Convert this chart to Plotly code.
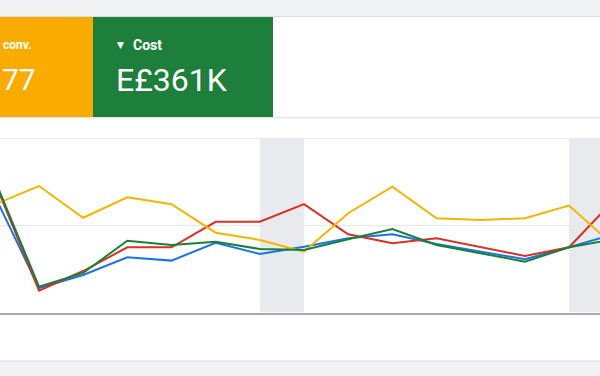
import plotly.graph_objects as go

W, H = 600, 376

days = list(range(15))
yellow = [62.3, 72.9, 54.6, 66.4, 62.4, 46.0, 41.8, 35.0, 57.2, 72.5, 54.3, 53.3, 54.3, 61.6, 38.9]
red    = [75.2, 12.6, 23.9, 37.6, 37.6, 52.3, 52.3, 62.5, 45.1, 39.9, 42.8, 37.8, 32.6, 37.6, 64.3]
blue   = [67.2, 14.1, 21.6, 31.8, 29.9, 40.2, 33.7, 37.9, 42.8, 45.1, 39.5, 35.2, 30.7, 37.6, 45.0]
green  = [76.4, 14.9, 22.8, 41.4, 38.9, 40.8, 36.6, 36.0, 42.2, 48.1, 38.9, 34.3, 29.3, 37.6, 42.2]
weekend_spans = [(6, 7), (13, 14)]

card1_label, card1_value = "conv.", "77"
card2_label, card2_value = "Cost", "E£361K"


def py(px):
    return 1 - px / H


def pxx(px):
    return px / W


fig = go.Figure()
series = [("Blue", blue, "#1a73e8"), ("Red", red, "#d93025"),
          ("Yellow", yellow, "#f4b400"), ("Green", green, "#188038")]
for name, vals, col in series:
    fig.add_trace(go.Scatter(x=days, y=vals, mode="lines", name=name,
                             line=dict(color=col, width=2), hoverinfo="skip"))

shapes = []
shapes.append(dict(type="rect", xref="paper", yref="paper", x0=0, x1=1, y0=py(16), y1=1,
                   fillcolor="#f1f3f4", line_width=0, layer="below"))
shapes.append(dict(type="line", xref="paper", yref="paper", x0=0, x1=1, y0=py(16.5), y1=py(16.5),
                   line=dict(color="#dadce0", width=1)))
shapes.append(dict(type="rect", xref="paper", yref="paper", x0=0, x1=pxx(93), y0=py(117), y1=py(17),
                   fillcolor="#f9ab00", line_width=0))
shapes.append(dict(type="rect", xref="paper", yref="paper", x0=pxx(93), x1=pxx(273), y0=py(117), y1=py(17),
                   fillcolor="#1e7f3c", line_width=0))
shapes.append(dict(type="line", xref="paper", yref="paper", x0=0, x1=1, y0=py(117.8), y1=py(117.8),
                   line=dict(color="#dadce0", width=1)))
shapes.append(dict(type="line", xref="paper", yref="paper", x0=0, x1=1, y0=py(138.5), y1=py(138.5),
                   line=dict(color="#e8eaed", width=1)))
shapes.append(dict(type="line", xref="paper", yref="paper", x0=0, x1=1, y0=py(361), y1=py(361),
                   line=dict(color="#dadce0", width=1)))
shapes.append(dict(type="rect", xref="paper", yref="paper", x0=0, x1=1, y0=0, y1=py(361.5),
                   fillcolor="#f1f3f4", line_width=0, layer="below"))
for a, b in weekend_spans:
    shapes.append(dict(type="rect", xref="x", yref="y", x0=a, x1=b, y0=0, y1=100,
                       fillcolor="#e8eaed", line_width=0, layer="below"))

ann = []
ann.append(dict(xref="paper", yref="paper", x=pxx(33), y=py(45), text="<b>" + card1_label + "</b>",
                xanchor="right", yanchor="middle", showarrow=False,
                font=dict(family="Roboto", size=12, color="white")))
ann.append(dict(xref="paper", yref="paper", x=0, y=py(80), text=card1_value,
                xanchor="left", yanchor="middle", showarrow=False,
                font=dict(family="Roboto", size=30, color="white")))
ann.append(dict(xref="paper", yref="paper", x=pxx(115), y=py(45), text="▼",
                xanchor="left", yanchor="middle", showarrow=False,
                font=dict(family="DejaVu Sans", size=9, color="white")))
ann.append(dict(xref="paper", yref="paper", x=pxx(131), y=py(45), text="<b>" + card2_label + "</b>",
                xanchor="left", yanchor="middle", showarrow=False,
                font=dict(family="Roboto", size=14, color="white")))
ann.append(dict(xref="paper", yref="paper", x=pxx(114), y=py(80), text=card2_value,
                xanchor="left", yanchor="middle", showarrow=False,
                font=dict(family="Roboto", size=32, color="white")))

x0 = 5.17 / 44.17
x1 = (600 + 5.17) / 44.17

fig.update_layout(
    width=W, height=H, margin=dict(l=0, r=0, t=0, b=0),
    paper_bgcolor="white", plot_bgcolor="rgba(0,0,0,0)",
    showlegend=False, shapes=shapes, annotations=ann,
    xaxis=dict(range=[x0, x1], domain=[0, 1], showgrid=False, zeroline=False,
               showticklabels=False, ticks="", showline=True, linecolor="#a8a8a8", linewidth=2),
    yaxis=dict(range=[0, 100], domain=[py(312.5), py(139)], showgrid=True, gridcolor="#e8e8e8",
               gridwidth=1, tickvals=[50], showticklabels=False, zeroline=False, ticks=""),
)

fig.write_html("out.html", config={"displayModeBar": False},
               post_script="document.body.style.margin='0';document.body.style.overflow='hidden';")
